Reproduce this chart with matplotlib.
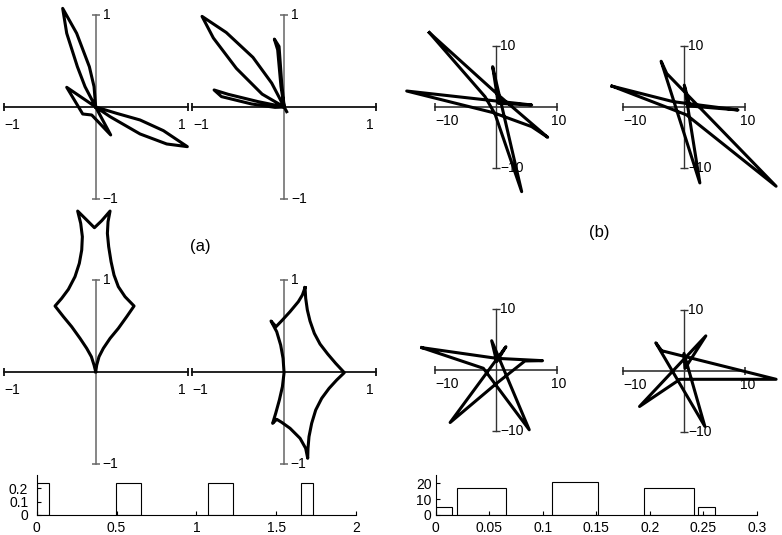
import matplotlib
matplotlib.use('Agg')
import matplotlib.pyplot as plt

plt.rcParams['font.family'] = ['Liberation Sans', 'DejaVu Sans']

W, H = 782, 535

# ---------------- data: (a) curves, unit axes ----------------
a1_x = [0, -0.018, -0.069, -0.207, -0.359, -0.315, -0.199, -0.116, 0,
        0.228, 0.482, 0.736, 0.996, 0.772, 0.482, 0.156, 0,
        -0.315, -0.141, -0.043, 0.163, 0]
a1_y = [0, 0.221, 0.438, 0.801, 1.072, 0.801, 0.438, 0.221, 0,
        -0.069, -0.141, -0.257, -0.431, -0.402, -0.293, -0.105, 0,
        0.214, -0.076, -0.087, -0.304, 0]

a2_x = [0, -0.136, -0.34, -0.63, -0.893, -0.77, -0.52, -0.24, 0,
        -0.027, -0.056, -0.107, -0.071, -0.035, 0,
        -0.282, -0.609, -0.762, -0.682, -0.355, -0.1, 0, 0.027]
a2_y = [0, 0.26, 0.54, 0.81, 0.985, 0.75, 0.42, 0.14, 0,
        0.258, 0.658, 0.738, 0.622, 0.222, 0,
        0.058, 0.138, 0.185, 0.113, 0.033, -0.004, 0, -0.051]

a3_x = [0, 0.011, 0.036, 0.083, 0.156, 0.246, 0.337, 0.417,
        0.319, 0.246, 0.199, 0.167, 0.141, 0.127, 0.134, 0.156,
        0.065, -0.014, -0.105, -0.196,
        -0.163, -0.145, -0.152, -0.178, -0.225, -0.297, -0.37, -0.442,
        -0.351, -0.261, -0.17, -0.098, -0.047, -0.018, 0]
a3_y = [0, 0.072, 0.163, 0.254, 0.362, 0.471, 0.598, 0.714,
        0.815, 0.924, 1.051, 1.196, 1.359, 1.504, 1.63, 1.746,
        1.641, 1.565, 1.656, 1.746,
        1.612, 1.467, 1.322, 1.178, 1.033, 0.895, 0.797, 0.714,
        0.598, 0.489, 0.362, 0.254, 0.163, 0.072, 0]

a4_x = [0.232, 0.239, 0.257, 0.286, 0.333, 0.395, 0.478, 0.565, 0.659,
        0.576, 0.493, 0.413, 0.348, 0.304, 0.275, 0.264, 0.261,
        0.239, 0.178, 0.069, -0.022, -0.076, -0.12,
        -0.087, -0.047, -0.014, 0.004, -0.007, -0.033, -0.076, -0.138,
        -0.083, -0.014, 0.069, 0.159, 0.203, 0.232]
a4_y = [0.917, 0.801, 0.674, 0.554, 0.42, 0.304, 0.196, 0.094, -0.007,
        -0.087, -0.178, -0.286, -0.413, -0.558, -0.703, -0.83, -0.938,
        -0.83, -0.721, -0.612, -0.547, -0.514, -0.558,
        -0.449, -0.304, -0.159, -0.007, 0.149, 0.293, 0.438, 0.554,
        0.493, 0.565, 0.656, 0.764, 0.837, 0.917]

# ---------------- data: (b) curves, axes -10..10 ----------------
b1_x = [-10.93, -1.80, -0.16, 4.21, -0.55, 0.38, 5.85, -14.64, -0.44, 5.85, 8.47, 0.38, -10.93]
b1_y = [12.19, 1.69, -1.15, -13.88, 6.61, 0.6, 0.33, 2.62, -0.93, -3.22, -4.97, 1.97, 12.19]

b2_x = [-11.85, -1.79, 8.8, 0.92, 0, 2.55, -3.8, -2.88, 15.05, 0.38, -11.85]
b2_y = [3.42, 0.87, -0.49, 0.16, 3.59, -12.45, 7.5, 5.49, -12.99, -1.3, 3.42]

b3_x = [-12.15, 0.11, 7.63, 4.74, 0.11, -7.52, 1.63, 0.11, -0.71, 5.45, -2.07, -12.15]
b3_y = [3.71, 1.96, 1.58, 1.53, -2.13, -8.56, 3.87, 1.42, 4.85, -9.75, 0.33, 3.71]

b4_x = [-3.7, 15.05, -0.71, -7.34, 3.53, 0.11, -0.05, 3.37, -4.67, -3.7]
b4_y = [3.32, -1.36, -1.36, -5.82, 5.76, 0.43, 2.88, -9.08, 4.62, 3.32]

# ---------------- data: histograms ----------------
ha_left = [0.0, 0.495, 1.071, 1.653]
ha_right = [0.079, 0.655, 1.231, 1.732]
ha_height = [0.24, 0.24, 0.24, 0.24]
ha_xticks = [0, 0.5, 1, 1.5, 2]
ha_xlabels = ['0', '0.5', '1', '1.5', '2']
ha_yticks = [0, 0.1, 0.2]
ha_ylabels = ['0', '0.1', '0.2']

hb_left = [0.0, 0.020, 0.109, 0.195, 0.245]
hb_right = [0.0156, 0.066, 0.152, 0.241, 0.261]
hb_height = [5, 17, 21, 17, 5]
hb_xticks = [0, 0.05, 0.1, 0.15, 0.2, 0.25, 0.3]
hb_xlabels = ['0', '0.05', '0.1', '0.15', '0.2', '0.25', '0.3']
hb_yticks = [0, 10, 20]
hb_ylabels = ['0', '10', '20']

fig = plt.figure(figsize=(W / 100, H / 100), dpi=100)


def panel(cx, cy, s, r):
    ax = fig.add_axes([(cx - s * r) / W, (H - cy - s * r) / H, 2 * s * r / W, 2 * s * r / H])
    ax.set_xlim(-r, r)
    ax.set_ylim(-r, r)
    ax.axis('off')
    return ax


def cross(ax, L, lab, xc, yc, xlw, ylw, xl_off, xr_off, xr_ha, y_off, xlab_dy):
    ax.plot([-L, L], [0, 0], color=xc, lw=xlw, zorder=1, clip_on=False)
    ax.plot([-L, L], [0, 0], ls='none', marker='|', ms=6, mew=xlw, color=xc, clip_on=False)
    ax.plot([0, 0], [-L, L], color=yc, lw=ylw, zorder=1, clip_on=False)
    ax.plot([0, 0], [-L, L], ls='none', marker='_', ms=6, mew=ylw, color=yc, clip_on=False)
    neg = '\u2212' + lab
    kw = dict(textcoords='offset pixels', fontsize=10, va='center', annotation_clip=False)
    ax.annotate(neg, (-L, 0), xytext=(xl_off, xlab_dy), ha='left', **kw)
    ax.annotate(lab, (L, 0), xytext=(xr_off, xlab_dy), ha=xr_ha, **kw)
    ax.annotate(lab, (0, L), xytext=(y_off, 0), ha='left', **kw)
    ax.annotate(neg, (0, -L), xytext=(y_off, 0), ha='left', **kw)


def curve(ax, x, y):
    ax.plot(x, y, color='black', lw=2.2, solid_joinstyle='round', clip_on=False, zorder=3)


# (a) panels
for (cx, cy), (x, y) in zip([(95.7, 107), (284.2, 107), (95.7, 371.7), (283.7, 372)],
                            [(a1_x, a1_y), (a2_x, a2_y), (a3_x, a3_y), (a4_x, a4_y)]):
    ax = panel(cx, cy, 92, 1.0)
    cross(ax, 1, '1', '#111111', '#666666', 1.3, 1.1, 1, -6, 'center', 7, -18)
    curve(ax, x, y)

# (b) panels
for (cx, cy), (x, y) in zip([(496, 107), (684.3, 107), (496, 370.3), (684.3, 371)],
                            [(b1_x, b1_y), (b2_x, b2_y), (b3_x, b3_y), (b4_x, b4_y)]):
    ax = panel(cx, cy, 6.1, 10.0)
    cross(ax, 10, '10', '#222222', '#333333', 1.1, 1.0, 0, 2, 'center', 4, -14)
    curve(ax, x, y)

fig.text(200 / W, 1 - 246 / H, '(a)', ha='center', va='center', fontsize=12)
fig.text(599 / W, 1 - 233 / H, '(b)', ha='center', va='center', fontsize=12)


def hist(rect, left, right, height, xlim, ylim, xt, xtl, yt, ytl, ypad):
    ax = fig.add_axes(rect)
    widths = [r - l for l, r in zip(left, right)]
    ax.bar(left, height, widths, align='edge', fill=False, edgecolor='black', lw=0.8)
    ax.set_xlim(*xlim)
    ax.set_ylim(*ylim)
    for s in ('top', 'right'):
        ax.spines[s].set_visible(False)
    for s in ('left', 'bottom'):
        ax.spines[s].set_linewidth(0.8)
    ax.set_xticks(xt)
    ax.set_xticklabels(xtl)
    ax.set_yticks(yt)
    ax.set_yticklabels(ytl)
    ax.tick_params(direction='in', length=3, width=0.8, labelsize=10)
    ax.tick_params(axis='x', pad=4.5)
    ax.tick_params(axis='y', pad=ypad)
    return ax


hist([36.7 / W, 20 / H, (356 - 36.7) / W, 40 / H], ha_left, ha_right, ha_height,
     (0, 2), (0, 0.3), ha_xticks, ha_xlabels, ha_yticks, ha_ylabels, 6)
hist([435.7 / W, 20 / H, (756.7 - 435.7) / W, 40 / H], hb_left, hb_right, hb_height,
     (0, 0.3), (0, 25.2), hb_xticks, hb_xlabels, hb_yticks, hb_ylabels, 3)

fig.savefig('out.png', dpi=100)
